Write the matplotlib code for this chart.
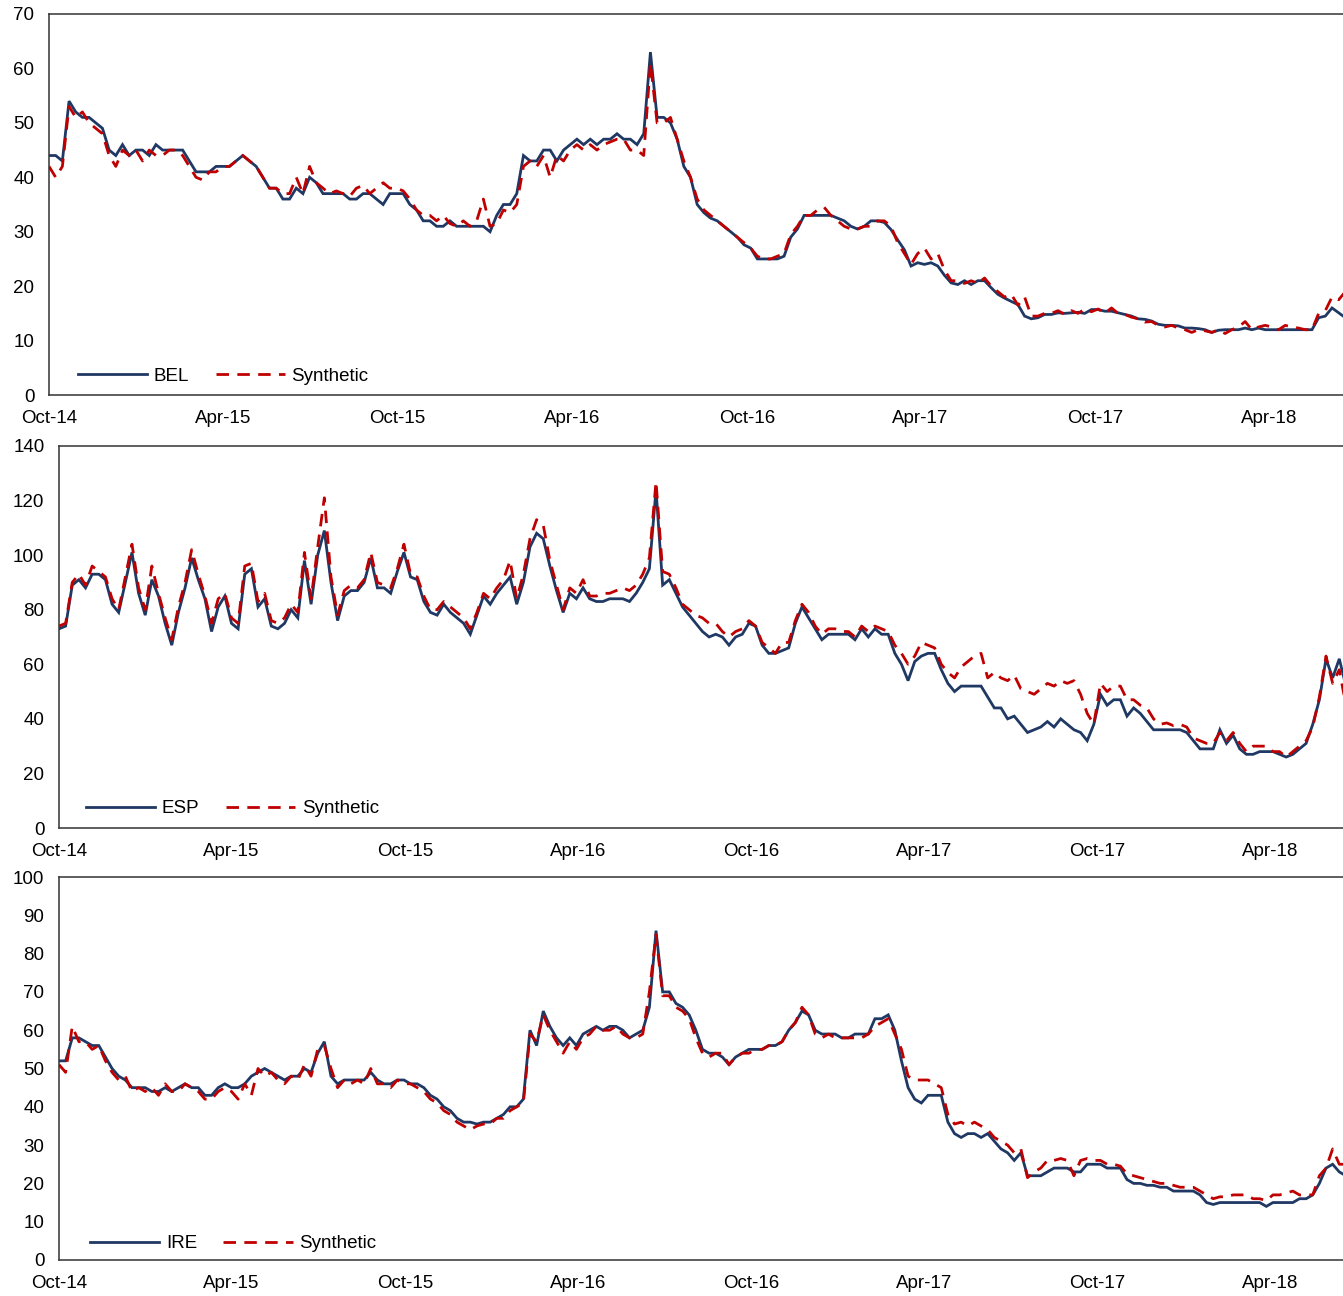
import matplotlib
matplotlib.use("Agg")
import matplotlib.pyplot as plt
import matplotlib.dates as mdates
import pandas as pd
from matplotlib.lines import Line2D

plt.rcParams['font.family'] = ['Liberation Sans', 'DejaVu Sans']

# Weekly observations starting 1 Oct 2014
dates = pd.date_range('2014-10-01', periods=195, freq='7D')

bel = [
    44, 44, 43, 54, 52, 51, 51, 50, 49, 45,
    44, 46, 44, 45, 45, 44, 46, 45, 45, 45,
    45, 43, 41, 41, 41, 42, 42, 42, 43, 44,
    43, 42, 40, 38, 38, 36, 36, 38, 37, 40,
    39, 37, 37, 37, 37, 36, 36, 37, 37, 36,
    35, 37, 37, 37, 35, 34, 32, 32, 31, 31,
    32, 31, 31, 31, 31, 31, 30, 33, 35, 35,
    37, 44, 43, 43, 45, 45, 43, 45, 46, 47,
    46, 47, 46, 47, 47, 48, 47, 47, 46, 48,
    63, 51, 51, 50, 47, 42, 40, 35, 33.5, 32.5,
    32, 31, 30, 29, 27.6, 27, 25, 25, 25, 25,
    25.5, 29, 30.5, 33, 33, 33, 33, 33, 32.5, 32,
    31, 30.5, 31, 32, 32, 31.7, 30.4, 28.5, 26.7, 23.7,
    24.3, 24, 24.3, 23.7, 22, 20.6, 20.3, 21, 20.3, 21,
    21, 19.7, 18.5, 17.8, 17.2, 16.6, 14.5, 14, 14.2, 14.8,
    14.8, 15.1, 15, 15.1, 15.2, 15, 15.7, 15.7, 15.4, 15.4,
    15.1, 14.8, 14.5, 14, 13.9, 13.6, 13, 12.8, 12.8, 12.7,
    12.3, 12.3, 12.2, 12, 11.5, 11.9, 12, 12, 12, 12.3,
    12, 12.3, 12, 12, 12, 12, 12, 12, 12, 12,
    14.2, 14.5, 16, 15.1, 14.2,
]
bel_syn = [
    42, 40, 42, 53, 51, 52, 50, 49, 48, 44,
    42, 45, 44, 45, 43, 45, 44, 44, 45, 45,
    44, 42, 40, 39.5, 41, 41, 42, 42, 43, 44,
    43, 42, 40, 38, 38, 37, 37, 40, 37, 42,
    39, 38, 37, 37.5, 37, 36.5, 38, 38.5, 37, 38,
    39, 38, 38, 37.5, 36, 34, 33, 33, 32, 33,
    31.5, 31, 32, 31, 32, 36, 31, 31.5, 34, 33.5,
    35, 42, 43, 42, 44, 40, 44, 43, 45, 46,
    45, 46, 45, 46, 46.5, 47, 47, 45, 45, 44,
    61, 50, 50, 51, 47, 43, 40, 36, 34, 33,
    32, 31, 30, 29, 28, 27, 25.5, 25, 25, 25.5,
    26, 29.5, 31, 33, 33, 34, 34.5, 33, 32, 31,
    30.5, 30.5, 31, 31, 32, 32, 31, 28, 26, 24,
    26, 27, 25, 26, 23, 21, 21, 20.5, 21, 20.5,
    21.5, 20, 19, 18, 18.5, 16.5, 18, 14.5, 14.5, 15,
    15, 15.5, 14.8, 15.5, 15, 15.8, 15.3, 15.8, 15, 16,
    15, 14.8, 14.3, 14, 13.4, 13.5, 12.8, 12.5, 12.8, 12.3,
    12, 11.5, 12, 11.8, 11.5, 12, 11.3, 12, 12.5, 13.5,
    12, 12.5, 12.8, 12.5, 12, 12.8, 12.5, 12.3, 12, 12,
    15, 15.5, 18, 17.5, 19,
]

esp = [
    73, 74, 89, 91, 88, 93, 93, 91, 82, 79,
    90, 101, 86, 78, 91, 85, 75, 67, 79, 88,
    99, 91, 84, 72, 81, 85, 75, 73, 93, 95,
    81, 84, 74, 73, 75, 80, 77, 98, 82, 100,
    109, 90, 76, 85, 87, 87, 90, 99, 88, 88,
    86, 94, 101, 92, 91, 83, 79, 78, 82, 79,
    77, 75, 71, 78, 85, 82, 86, 89, 92, 82,
    90, 103, 108, 106, 96, 87, 79, 86, 84, 88,
    84, 83, 83, 84, 84, 84, 83, 86, 90, 95,
    124, 89, 91, 86, 81, 78, 75, 72, 70, 71,
    70, 67, 70, 71, 75, 74, 67, 64, 64, 65,
    66, 75, 81, 77, 73, 69, 71, 71, 71, 71,
    69, 73, 70, 73, 71, 71, 64, 60, 54, 61,
    63, 64, 64, 58, 53, 50, 52, 52, 52, 52,
    48, 44, 44, 40, 41, 38, 35, 36, 37, 39,
    37, 40, 38, 36, 35, 32, 38, 49, 45, 47,
    47, 41, 44, 42, 39, 36, 36, 36, 36, 36,
    35, 32, 29, 29, 29, 36, 31, 34, 29, 27,
    27, 28, 28, 28, 27, 26, 27, 29, 31, 38,
    47, 62, 55, 62, 52,
]
esp_syn = [
    74, 75, 90, 93, 89, 96, 94, 92, 84, 80,
    92, 104, 88, 80, 96, 86, 77, 69, 81, 90,
    102, 93, 85, 75, 84, 86, 77, 75, 96, 97,
    83, 86, 76, 75, 77, 82, 79, 101, 84, 103,
    121, 92, 78, 87, 89, 88, 91, 101, 90, 89,
    88, 95, 104, 93, 92, 85, 80, 80, 83, 81,
    79, 77, 73, 79, 86, 84, 88, 91, 98, 84,
    93, 106, 113, 111, 98, 89, 80, 88, 86, 91,
    85, 85, 86, 86, 87, 88, 87, 89, 93, 99,
    127, 94, 93, 88, 82, 80, 78, 77, 75, 75,
    72, 70, 72, 73, 76, 74, 68, 66, 64, 68,
    68, 76, 82, 79, 74, 71, 73, 73, 72, 72,
    70, 74, 72, 74, 73, 72, 67, 64, 60, 63,
    68, 67, 66, 60, 57, 55, 59, 61, 63, 64,
    55, 57, 55, 54, 56, 51, 50, 49, 51, 53,
    52, 54, 53, 54, 49, 42, 38, 53, 50, 52,
    52, 47, 47, 45, 44, 40, 38, 38.5, 37.5, 38,
    37, 33, 32, 31, 31, 35, 32, 35, 31, 28,
    30, 30, 30, 28, 28, 26, 28, 30, 32, 37,
    48, 63, 53, 58, 45,
]

ire = [
    52, 52, 58, 58, 57, 56, 56, 53, 50, 48,
    47, 45, 45, 45, 44, 44, 45, 44, 45, 46,
    45, 45, 43, 43, 45, 46, 45, 45, 46, 48,
    49, 50, 49, 48, 47, 48, 48, 50, 49, 54,
    57, 48, 46, 47, 47, 47, 47, 49, 47, 46,
    46, 47, 47, 46, 46, 45, 43, 42, 40, 39,
    37, 36, 36, 35.5, 36, 36, 37, 38, 40, 40,
    42, 60, 56, 65, 61, 58, 56, 58, 56, 59,
    60, 61, 60, 61, 61, 60, 58, 59, 60, 66,
    86, 70, 70, 67, 66, 64, 60, 55, 54, 54,
    53, 51, 53, 54, 55, 55, 55, 56, 56, 57,
    60, 62, 65, 64, 60, 59, 59, 59, 58, 58,
    59, 59, 59, 63, 63, 64, 60, 52, 45, 42,
    41, 43, 43, 43, 36, 33, 32, 33, 33, 32,
    33, 31, 29, 28, 26, 28, 22, 22, 22, 23,
    24, 24, 24, 23, 23, 25, 25, 25, 24, 24,
    24, 21, 20, 20, 19.5, 19.5, 19, 19, 18, 18,
    18, 18, 17, 15, 14.5, 15, 15, 15, 15, 15,
    15, 15, 14, 15, 15, 15, 15, 16, 16, 17,
    20, 24, 25, 23, 22,
]
ire_syn = [
    51, 49, 61, 57, 57, 55, 56, 52, 49, 47,
    48, 44, 45, 44, 45, 43, 46, 44, 44, 46,
    45, 44, 42, 42, 44, 45, 44, 42, 46, 43,
    50, 48, 49, 47, 46, 48, 47, 51, 48, 55,
    56, 50, 45, 47, 46, 47, 46, 50, 46, 46,
    45, 47, 46, 46, 45, 44, 42, 41, 39, 38,
    36, 35, 34, 35, 35.5, 35.5, 37, 37, 39, 40,
    41, 59, 57, 64, 60, 57, 54, 57, 55, 58,
    59, 61, 60, 60, 61, 59, 58, 58, 59, 70,
    85, 69, 69, 66, 65, 63, 58, 54, 53, 54,
    54, 51, 53, 54, 54, 55, 55, 56, 56, 57,
    60, 62, 66, 64, 59, 58, 59, 58, 58, 58,
    58, 58, 59, 61, 62, 63, 59, 55, 48, 47,
    47, 47, 46, 45, 38, 35.5, 36, 35, 36, 35,
    34, 32, 31, 30, 28, 29, 21.5, 23, 24, 26,
    26, 26.5, 26, 22, 26, 26.5, 26, 26, 25, 25,
    24.5, 22.5, 22, 21.5, 21, 20.5, 20, 20, 19.5, 19,
    19, 19, 18, 17, 16, 16.5, 16.5, 17, 17, 17,
    16, 16, 15.5, 17, 17, 17.5, 18, 17, 17, 17,
    22, 24, 29, 25, 25,
]

tick_dates = pd.to_datetime(['2014-10-01', '2015-04-01', '2015-10-01', '2016-04-01',
                             '2016-10-01', '2017-04-01', '2017-10-01', '2018-04-01'])
x_range = (pd.Timestamp('2014-10-01'), pd.Timestamp('2018-07-01'))

NAVY = '#1F3864'
RED = '#C00000'
FS = 13.5

panels = [
    dict(name='BEL', actual=bel, synth=bel_syn, ylim=(0, 70), step=10,
         rect=[0.03649, 0.6952, 0.9731, 0.2940], leg=(0.0222, 0.050)),
    dict(name='ESP', actual=esp, synth=esp_syn, ylim=(0, 140), step=20,
         rect=[0.04393, 0.3611, 0.9660, 0.2948], leg=(0.0208, 0.050)),
    dict(name='IRE', actual=ire, synth=ire_syn, ylim=(0, 100), step=10,
         rect=[0.04393, 0.02778, 0.9660, 0.2955], leg=(0.0239, 0.042)),
]

fig = plt.figure(figsize=(13.43, 12.96), dpi=100)

for p in panels:
    ax = fig.add_axes(p['rect'])
    ax.plot(dates, p['actual'], color=NAVY, lw=2.0, solid_joinstyle='miter')
    ax.plot(dates, p['synth'], color=RED, lw=2.0, dashes=(4.5, 3))
    ax.set_xlim(*x_range)
    lo, hi = p['ylim']
    ax.set_ylim(lo, hi)
    ax.set_yticks(range(lo, hi + 1, p['step']))
    ax.set_xticks(tick_dates)
    ax.xaxis.set_major_formatter(mdates.DateFormatter('%b-%y'))
    ax.tick_params(axis='both', length=0, labelsize=FS, pad=10.5, colors='black')
    for s in ax.spines.values():
        s.set_color('#333333')
        s.set_linewidth(1.1)
    handles = [Line2D([], [], color=NAVY, lw=2.0),
               Line2D([], [], color=RED, lw=2.0, dashes=(4.5, 3))]
    ax.legend(handles, [p['name'], 'Synthetic'], loc='center left',
              bbox_to_anchor=p['leg'], ncol=2, frameon=False, fontsize=FS,
              handlelength=3.7, handletextpad=0.35, columnspacing=1.4,
              borderpad=0, borderaxespad=0)

fig.savefig('out.png', dpi=100)
